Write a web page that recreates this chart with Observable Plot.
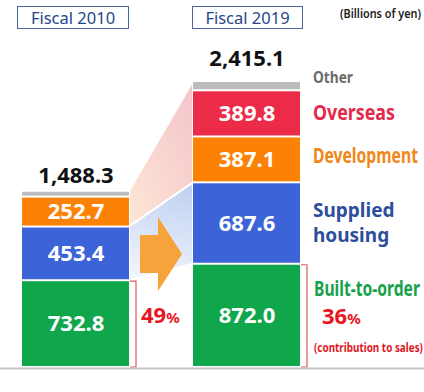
<!DOCTYPE html>
<html><head><meta charset="utf-8">
<script src="https://cdn.jsdelivr.net/npm/d3@7"></script>
<script src="https://cdn.jsdelivr.net/npm/@observablehq/plot@0.6"></script>
<style>
body{margin:0;background:#fff;}
#wrap{position:relative;width:424px;height:392px;overflow:hidden;font-family:"Noto Sans",sans-serif;}
#head{position:relative;height:36px;}
.box{position:absolute;top:6px;height:23px;box-sizing:border-box;border:1px solid #4a66a4;color:#26468a;font-size:16.5px;line-height:21px;text-align:center;}
#unit{position:absolute;left:340px;top:5px;font-family:"Noto Sans",sans-serif;font-weight:600;font-size:12.5px;color:#222;white-space:nowrap;transform-origin:0 0;}
svg{display:block;}
</style>
</head><body>
<div id="wrap">
  <div id="head">
    <div class="box" style="left:17px;width:112px;">Fiscal 2010</div>
    <div class="box" style="left:192px;width:111px;">Fiscal 2019</div>
    <div id="unit">(Billions of yen)</div>
  </div>
  <div id="chart"></div>
</div>
<script>
const years = ["Fiscal 2010", "Fiscal 2019"];
const segments = ["Built-to-order", "Supplied housing", "Development", "Overseas", "Other"];
const fy2010 = [732.8, 453.4, 252.7, 0, 49.4];
const fy2019 = [872.0, 687.6, 387.1, 389.8, 78.6];
const totals = [1488.3, 2415.1];
const builtShare = [49, 36];
const segColors = ["#10a64c", "#3d63d9", "#fb8204", "#ec2b49", "#bdbdbd"];
const labelColors = ["#17a14b", "#2c4e9b", "#f0881a", "#e22a4c", "#6b6b6b"];
const segLabels = ["Built-to-order", "Supplied\nhousing", "Development", "Overseas", "Other"];
const noteText = "(contribution to sales)";
// condensed label widths (px) as set in the reference typography
const condensedWidths = {"Other": 40, "Overseas": 82, "Development": 105, "Built-to-order": 106, "(contribution to sales)": 109};

const series = [fy2010, fy2019];
const rows = [];
years.forEach((yr, i) => {
  let acc = 0;
  series[i].forEach((v, j) => {
    rows.push({year: yr, seg: segments[j], value: v, y1: acc, y2: acc + v, mid: acc + v / 2, idx: j});
    acc += v;
  });
});
const bars = rows.filter(d => d.value > 0);
const totalRows = years.map((yr, i) => ({year: yr, total: totals[i]}));
const rows2019 = rows.filter(d => d.year === years[1]);
const seg19 = s => rows2019.filter(d => d.seg === s);
const cum = series.map(s => Array.from(d3.cumsum(s)));

function decorations(index, scales) {
  const x = scales.x, y = scales.y, bw = x.bandwidth();
  const xa = x(years[0]) + bw, xb = x(years[1]);
  const g = d3.create("svg:g");
  const defs = g.append("defs");
  const gp = defs.append("linearGradient").attr("id", "gPink").attr("x1", 1).attr("y1", 0).attr("x2", 0).attr("y2", 1);
  gp.append("stop").attr("offset", 0).attr("stop-color", "#f4c4ca");
  gp.append("stop").attr("offset", 1).attr("stop-color", "#fde7d6");
  const gb = defs.append("linearGradient").attr("id", "gBlue").attr("x1", 0.6).attr("y1", 0).attr("x2", 0.4).attr("y2", 1);
  gb.append("stop").attr("offset", 0).attr("stop-color", "#c0d1f1");
  gb.append("stop").attr("offset", 1).attr("stop-color", "#f1f5fc");
  const line = d3.line();
  const pink = [[xa, y(totals[0])], [xb, y(totals[1])], [xb, y(cum[1][1])], [xa, y(cum[0][1])]];
  const blue = [[xa, y(cum[0][1])], [xb, y(cum[1][1])], [xb, y(cum[1][0])], [xa, y(cum[0][0])]];
  g.append("path").attr("d", line(pink) + "Z").attr("fill", "url(#gPink)").attr("stroke", "#fff").attr("stroke-width", 2);
  g.append("path").attr("d", line(blue) + "Z").attr("fill", "url(#gBlue)").attr("stroke", "#fff").attr("stroke-width", 2);
  return g.node();
}

function arrowAndBrackets(index, scales) {
  const x = scales.x, y = scales.y, bw = x.bandwidth();
  const xa = x(years[0]) + bw, xb = x(years[1]);
  const g = d3.create("svg:g");
  const cy = y(0) - 113;
  const ax0 = xa + 11, ax1 = xb - 11, axm = xa + 29;
  const arrow = [[ax0, cy - 19], [axm, cy - 19], [axm, cy - 37], [ax1, cy], [axm, cy + 37], [axm, cy + 19], [ax0, cy + 19]];
  g.append("path").attr("d", d3.line()(arrow) + "Z").attr("fill", "#f6a33b");
  years.forEach((yr, i) => {
    const xr = x(yr) + bw;
    const top = y(series[i][0]) + 1, bot = y(0);
    g.append("path")
      .attr("d", `M${xr + 1},${top}H${xr + 7}V${bot}H${xr + 1}`)
      .attr("fill", "none").attr("stroke", "#e05b5b").attr("stroke-width", 1.2);
  });
  const pos = [[xa + 12, y(series[0][0] / 2) - 4], [xb + bw + 22, y(series[1][0] / 2) + 5]];
  builtShare.forEach((s, i) => {
    const t = g.append("text").attr("x", pos[i][0]).attr("y", pos[i][1]).attr("dy", "0.36em")
      .attr("text-anchor", "start")
      .attr("fill", "#e8161e").attr("font-family", "'Noto Sans',sans-serif").attr("font-weight", "bold");
    t.append("tspan").attr("font-size", 22).text(s);
    t.append("tspan").attr("font-size", 15).text("%");
  });
  return g.node();
}

const fmtT = d3.format(",.1f");
const fmtV = d3.format(".1f");
const lab = (s, color, size, dx, dy, extra = {}) =>
  Plot.text(seg19(s), {x: "year", y: "mid", text: d => segLabels[d.idx], fill: color, fontSize: size, fontWeight: "bold", fontFamily: "Noto Sans", textAnchor: "start", dx, dy, ...extra});

const chart = Plot.plot({
  width: 424,
  height: 356,
  margin: 0,
  x: {type: "band", domain: years, range: [21, 301], paddingInner: 0.372, paddingOuter: 0, axis: null},
  y: {domain: [0, d3.max(totals)], range: [331, 45], axis: null},
  color: {domain: segments, range: segColors},
  marks: [
    decorations,
    Plot.barY(bars, {x: "year", y1: "y1", y2: "y2", fill: "seg", insetTop: 1, insetBottom: 1}),
    arrowAndBrackets,
    Plot.ruleY([0], {stroke: "#c4c4c4", strokeWidth: 2, dy: 1}),
    Plot.text(bars.filter(d => d.seg !== "Other"), {x: "year", y: "mid", text: d => fmtV(d.value), fill: "white", fontSize: 22, fontWeight: "bold", fontFamily: "Noto Sans"}),
    Plot.text(totalRows.slice(0, 1), {x: "year", y: "total", text: d => fmtT(d.total), fontSize: 22, fontWeight: "bold", fontFamily: "Noto Sans", fill: "#111", dy: -15}),
    Plot.text(totalRows.slice(1), {x: "year", y: "total", text: d => fmtT(d.total), fontSize: 22, fontWeight: "bold", fontFamily: "Noto Sans", fill: "#111", dy: -23}),
    lab("Other", labelColors[4], 16, 66, -8),
    lab("Overseas", labelColors[3], 22, 66, -1),
    lab("Development", labelColors[2], 21, 66, -4),
    lab("Supplied housing", labelColors[1], 19, 66, -2, {lineHeight: 1.33}),
    lab("Built-to-order", labelColors[0], 21, 67, -27),
    Plot.text(seg19("Built-to-order"), {x: "year", y: "mid", text: () => noteText, fill: "#e0161e", fontSize: 13, fontWeight: "bold", fontFamily: "Noto Sans", textAnchor: "start", dx: 67, dy: 32})
  ]
});
document.getElementById("chart").append(chart);
// condense the narrow-set labels horizontally around their left anchor
d3.select(chart).selectAll("text").each(function() {
  const w = condensedWidths[this.textContent];
  if (!w) return;
  const natural = this.getComputedTextLength();
  if (!natural) return;
  const k = w / natural;
  const tr = this.getAttribute("transform") || "";
  const m = /translate\(\s*([-\d.e]+)/.exec(tr);
  const ax = (m ? +m[1] : 0) + (+this.getAttribute("x") || 0);
  this.setAttribute("transform", `translate(${ax},0) scale(${k},1) translate(${-ax},0) ${tr}`);
});
const unit = document.getElementById("unit");
const uw = unit.getBoundingClientRect().width;
unit.style.transform = `scaleX(${81 / uw})`;
</script>
</body></html>
